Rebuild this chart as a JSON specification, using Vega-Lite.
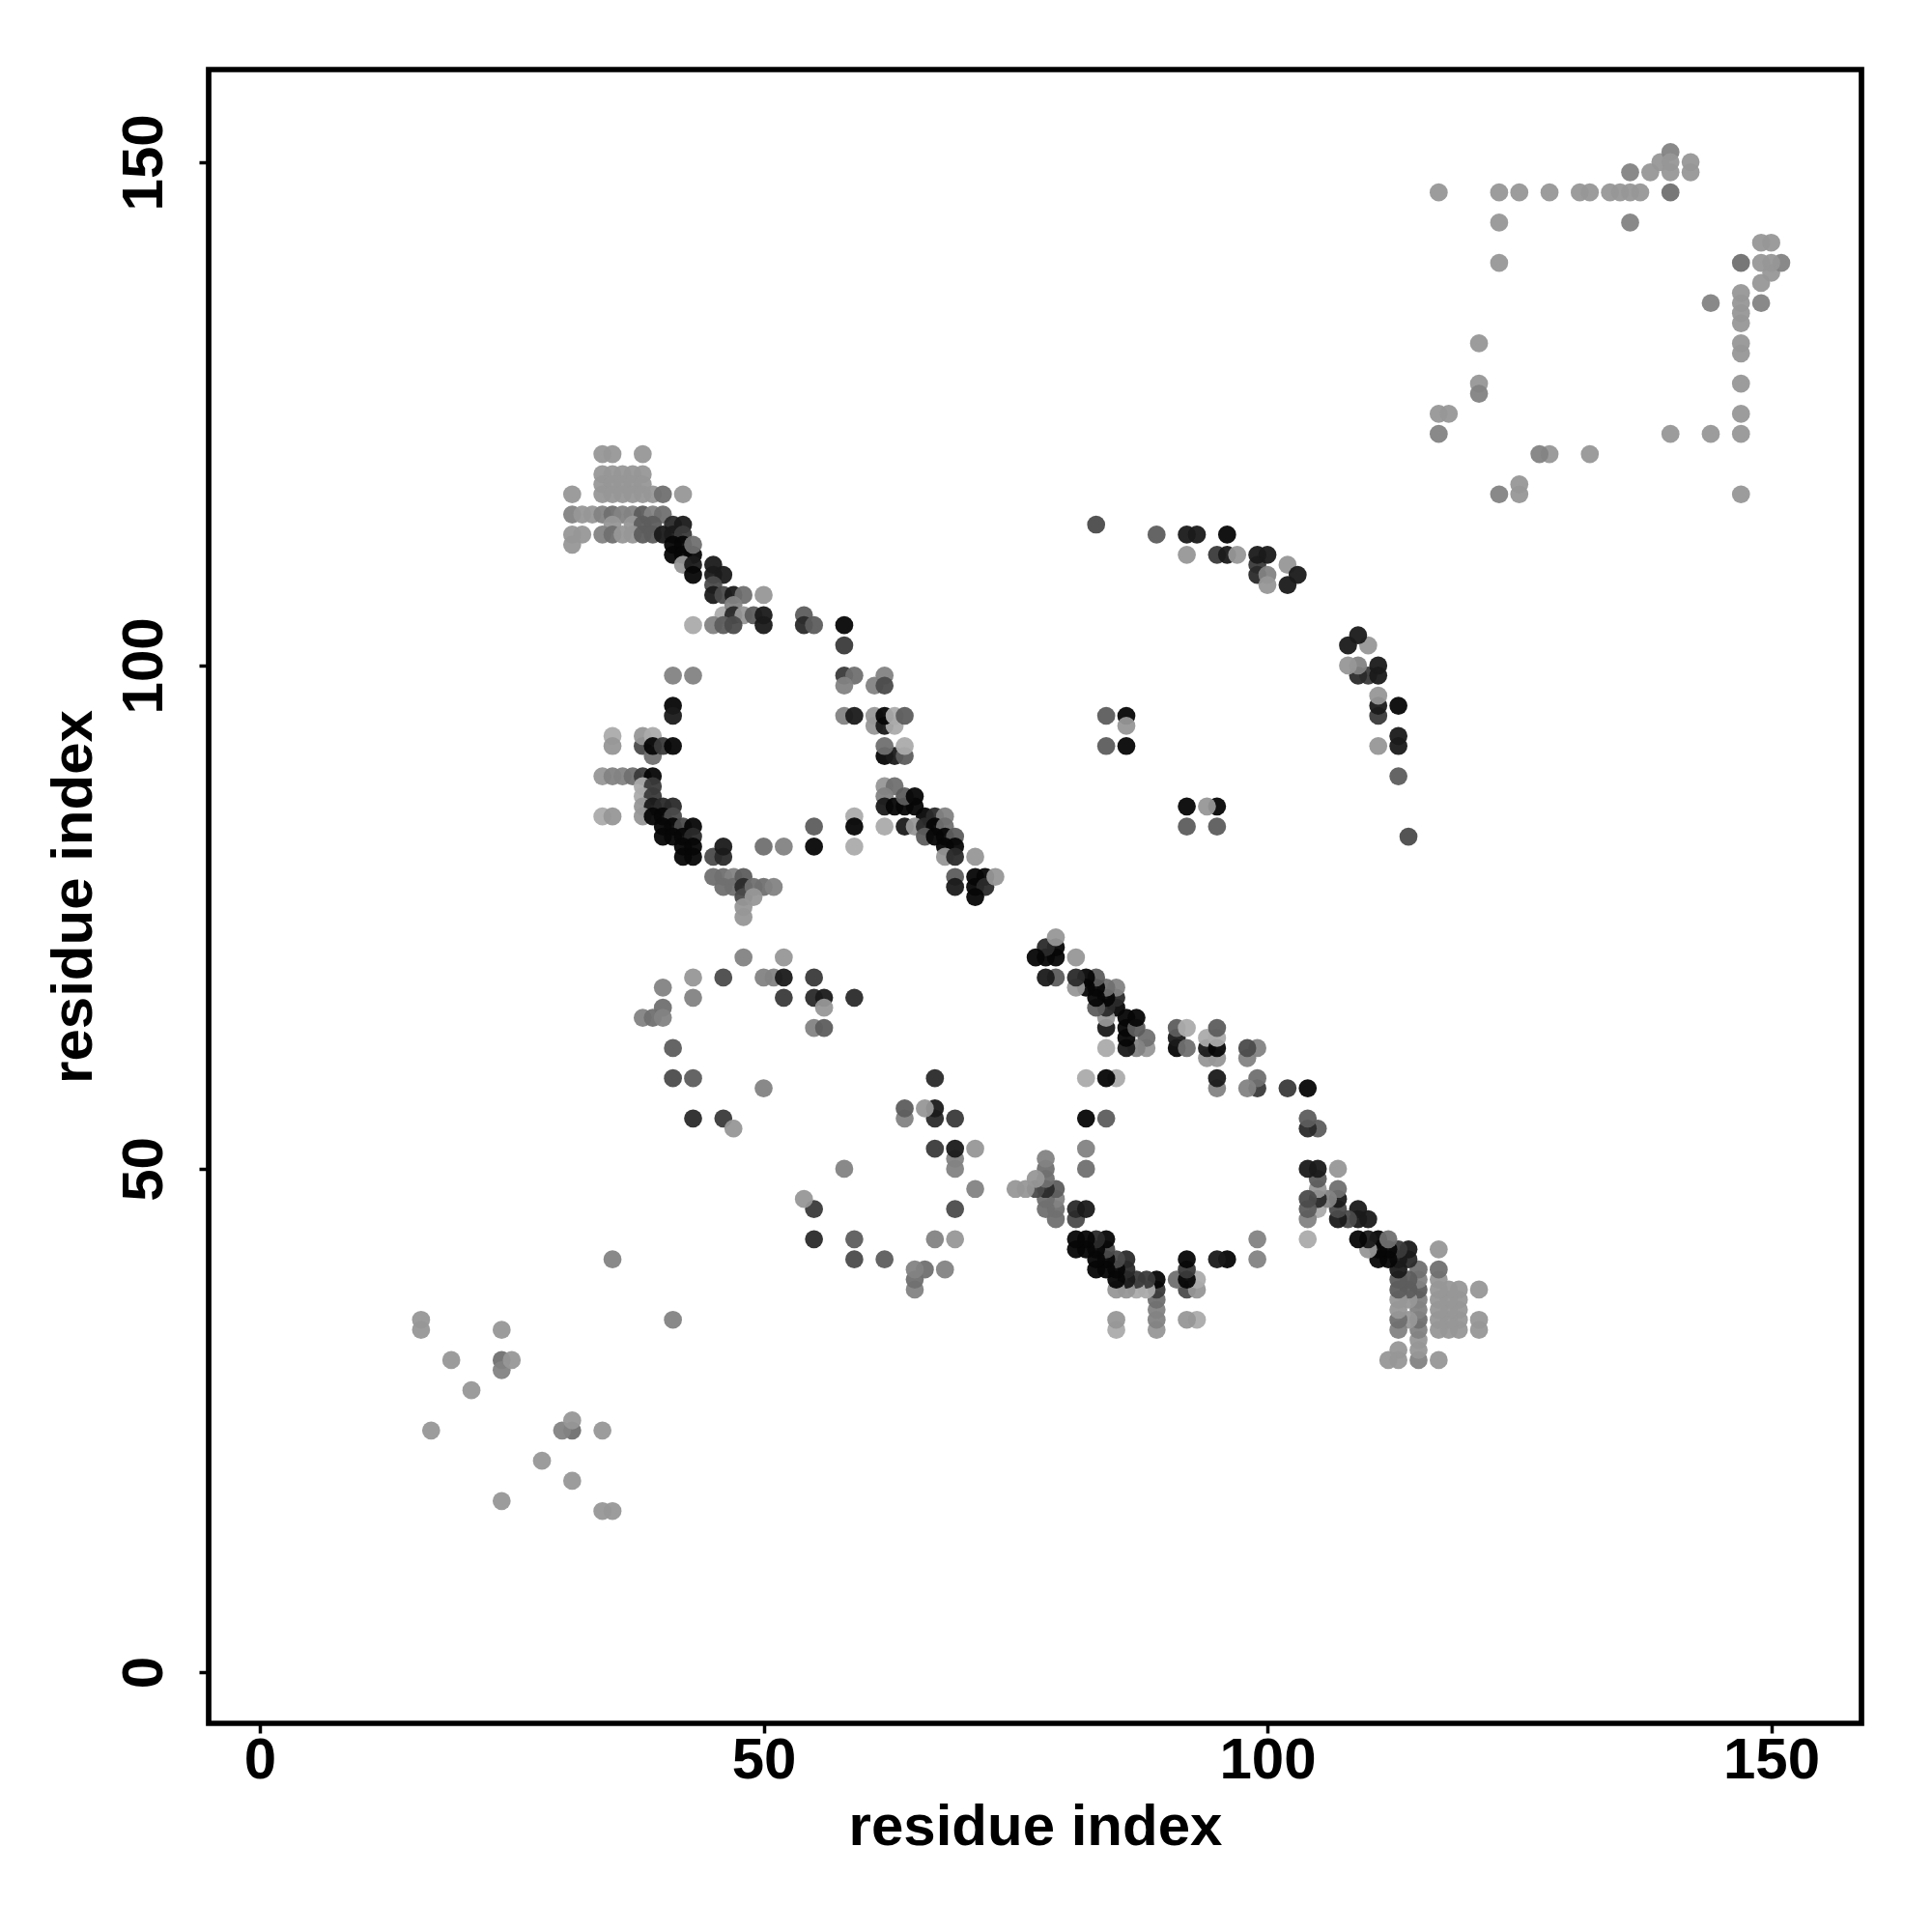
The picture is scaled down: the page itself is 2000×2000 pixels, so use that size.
{"$schema":"https://vega.github.io/schema/vega-lite/v6.json","autosize":{"type":"none"},"padding":{"left":216,"top":72,"right":73,"bottom":216},"width":1711,"height":1712,"background":"white","view":{"stroke":"black","strokeWidth":5.7,"fill":"white"},
"data":{"values":[
{"x":34,"y":121,"s":2},{"x":35,"y":121,"s":2},{"x":38,"y":121,"s":2},{"x":34,"y":119,"s":2},{"x":35,"y":119,"s":2},{"x":36,"y":119,"s":2},{"x":37,"y":119,"s":2},{"x":38,"y":119,"s":2},{"x":34,"y":118,"s":2},{"x":35,"y":118,"s":2},{"x":36,"y":118,"s":2},{"x":37,"y":118,"s":2},{"x":38,"y":118,"s":2},{"x":31,"y":117,"s":2},{"x":34,"y":117,"s":2},{"x":35,"y":117,"s":2},{"x":36,"y":117,"s":2},{"x":37,"y":117,"s":2},{"x":38,"y":117,"s":2},{"x":39,"y":117,"s":2},{"x":40,"y":117,"s":4},{"x":42,"y":117,"s":2},
{"x":31,"y":115,"s":3},{"x":32,"y":115,"s":2},{"x":33,"y":115,"s":2},{"x":34,"y":115,"s":3},{"x":35,"y":115,"s":4},{"x":36,"y":115,"s":3},{"x":37,"y":115,"s":3},{"x":38,"y":115,"s":5},{"x":39,"y":115,"s":3},{"x":40,"y":115,"s":4},{"x":35,"y":114,"s":2},{"x":37,"y":114,"s":2},{"x":38,"y":114,"s":5},{"x":39,"y":114,"s":5},{"x":41,"y":114,"s":8},{"x":42,"y":114,"s":9},
{"x":31,"y":113,"s":2},{"x":32,"y":113,"s":2},{"x":34,"y":113,"s":3},{"x":35,"y":113,"s":4},{"x":36,"y":113,"s":2},{"x":37,"y":113,"s":2},{"x":38,"y":113,"s":5},{"x":39,"y":113,"s":5},{"x":40,"y":113,"s":9},{"x":41,"y":113,"s":9},{"x":42,"y":113,"s":7},{"x":31,"y":112,"s":2},{"x":41,"y":112,"s":10},{"x":42,"y":112,"s":10},{"x":41,"y":111,"s":10},{"x":42,"y":111,"s":10},{"x":43,"y":111,"s":10},{"x":43,"y":112,"s":4},
{"x":42,"y":110,"s":2},{"x":43,"y":110,"s":9},{"x":45,"y":110,"s":9},{"x":43,"y":109,"s":10},{"x":45,"y":109,"s":9},{"x":46,"y":109,"s":9},{"x":45,"y":108,"s":6},{"x":45,"y":107,"s":9},{"x":46,"y":107,"s":6},{"x":47,"y":107,"s":9},{"x":48,"y":107,"s":4},{"x":50,"y":107,"s":2},
{"x":46,"y":105,"s":1},{"x":47,"y":106,"s":3},{"x":47,"y":105,"s":8},{"x":48,"y":105,"s":2},{"x":49,"y":105,"s":5},{"x":50,"y":105,"s":9},{"x":54,"y":105,"s":5},{"x":43,"y":104,"s":1},{"x":45,"y":104,"s":3},{"x":46,"y":104,"s":5},{"x":47,"y":104,"s":6},{"x":50,"y":104,"s":9},{"x":54,"y":104,"s":8},{"x":55,"y":104,"s":5},{"x":58,"y":104,"s":10},{"x":58,"y":102,"s":7},
{"x":41,"y":99,"s":3},{"x":43,"y":99,"s":3},{"x":58,"y":99,"s":7},{"x":59,"y":99,"s":4},{"x":62,"y":99,"s":3},{"x":61,"y":98,"s":3},{"x":62,"y":98,"s":6},{"x":58,"y":98,"s":3},{"x":41,"y":96,"s":10},{"x":41,"y":95,"s":9},{"x":58,"y":95,"s":3},{"x":59,"y":95,"s":9},{"x":61,"y":95,"s":2},{"x":61,"y":94,"s":2},{"x":62,"y":94,"s":9},{"x":63,"y":94,"s":1},{"x":62,"y":95,"s":10},{"x":63,"y":95,"s":1},{"x":64,"y":95,"s":5},
{"x":35,"y":93,"s":1},{"x":35,"y":92,"s":2},{"x":38,"y":92,"s":6},{"x":39,"y":91,"s":4},{"x":38,"y":93,"s":2},{"x":39,"y":93,"s":1},{"x":39,"y":92,"s":10},{"x":40,"y":92,"s":7},{"x":41,"y":92,"s":10},{"x":62,"y":91,"s":10},{"x":63,"y":91,"s":9},{"x":64,"y":91,"s":5},{"x":62,"y":92,"s":4},{"x":64,"y":92,"s":1},
{"x":34,"y":89,"s":2},{"x":35,"y":89,"s":3},{"x":36,"y":89,"s":3},{"x":37,"y":89,"s":4},{"x":38,"y":89,"s":7},{"x":39,"y":89,"s":10},{"x":38,"y":88,"s":1},{"x":39,"y":88,"s":7},{"x":38,"y":87,"s":1},{"x":39,"y":87,"s":7},{"x":38,"y":86,"s":2},{"x":39,"y":86,"s":9},{"x":40,"y":86,"s":8},{"x":41,"y":86,"s":8},{"x":34,"y":85,"s":1},{"x":35,"y":85,"s":2},{"x":38,"y":85,"s":2},{"x":39,"y":85,"s":10},{"x":40,"y":85,"s":10},{"x":41,"y":85,"s":6},{"x":40,"y":84,"s":10},{"x":41,"y":84,"s":10},{"x":42,"y":84,"s":6},{"x":43,"y":84,"s":10},{"x":40,"y":83,"s":10},{"x":41,"y":83,"s":10},{"x":42,"y":83,"s":10},{"x":43,"y":83,"s":8},{"x":42,"y":82,"s":10},{"x":43,"y":82,"s":10},{"x":42,"y":81,"s":10},{"x":43,"y":81,"s":10},{"x":45,"y":81,"s":6},{"x":46,"y":81,"s":8},{"x":46,"y":82,"s":9},{"x":50,"y":82,"s":4},{"x":52,"y":82,"s":3},{"x":55,"y":84,"s":5},{"x":55,"y":82,"s":10},{"x":59,"y":85,"s":1},{"x":59,"y":84,"s":10},{"x":59,"y":82,"s":1},{"x":62,"y":84,"s":1},
{"x":62,"y":88,"s":2},{"x":63,"y":88,"s":4},{"x":62,"y":87,"s":3},{"x":62,"y":86,"s":9},{"x":63,"y":86,"s":10},{"x":64,"y":86,"s":10},{"x":65,"y":86,"s":10},{"x":64,"y":87,"s":5},{"x":65,"y":87,"s":10},{"x":66,"y":85,"s":10},{"x":67,"y":85,"s":8},{"x":68,"y":85,"s":3},{"x":64,"y":84,"s":9},{"x":65,"y":84,"s":2},{"x":66,"y":84,"s":8},{"x":67,"y":84,"s":10},{"x":68,"y":84,"s":4},{"x":66,"y":83,"s":5},{"x":67,"y":83,"s":10},{"x":68,"y":83,"s":10},{"x":69,"y":83,"s":5},{"x":68,"y":82,"s":10},{"x":69,"y":82,"s":10},{"x":68,"y":81,"s":2},{"x":69,"y":81,"s":8},{"x":71,"y":81,"s":2},{"x":69,"y":79,"s":5},{"x":69,"y":78,"s":9},{"x":71,"y":79,"s":10},{"x":72,"y":79,"s":10},{"x":71,"y":78,"s":10},{"x":72,"y":78,"s":8},{"x":71,"y":77,"s":10},{"x":73,"y":79,"s":2},
{"x":45,"y":79,"s":4},{"x":46,"y":79,"s":4},{"x":47,"y":79,"s":3},{"x":46,"y":78,"s":4},{"x":47,"y":78,"s":4},{"x":48,"y":79,"s":5},{"x":48,"y":78,"s":8},{"x":48,"y":77,"s":6},{"x":49,"y":78,"s":4},{"x":50,"y":78,"s":4},{"x":51,"y":78,"s":3},{"x":49,"y":77,"s":2},{"x":48,"y":76,"s":2},{"x":48,"y":75,"s":2},
{"x":48,"y":71,"s":3},{"x":52,"y":71,"s":2},{"x":46,"y":69,"s":6},{"x":43,"y":69,"s":2},{"x":40,"y":68,"s":3},{"x":43,"y":67,"s":3},{"x":40,"y":66,"s":4},{"x":38,"y":65,"s":3},{"x":39,"y":65,"s":4},{"x":40,"y":65,"s":3},{"x":41,"y":62,"s":5},{"x":41,"y":59,"s":6},{"x":43,"y":59,"s":5},{"x":43,"y":55,"s":8},{"x":46,"y":55,"s":7},{"x":47,"y":54,"s":2},{"x":50,"y":58,"s":3},{"x":50,"y":69,"s":3},{"x":51,"y":69,"s":3},{"x":52,"y":69,"s":9},{"x":52,"y":67,"s":7},{"x":55,"y":69,"s":7},{"x":55,"y":67,"s":8},{"x":56,"y":67,"s":9},{"x":56,"y":66,"s":2},{"x":55,"y":64,"s":3},{"x":56,"y":64,"s":5},{"x":59,"y":67,"s":8},
{"x":35,"y":41,"s":3},{"x":16,"y":35,"s":2},{"x":16,"y":34,"s":2},{"x":19,"y":31,"s":2},{"x":21,"y":28,"s":2},{"x":17,"y":24,"s":2},{"x":24,"y":34,"s":2},{"x":24,"y":31,"s":4},{"x":24,"y":30,"s":3},{"x":25,"y":31,"s":2},
{"x":83,"y":114,"s":6},{"x":89,"y":113,"s":5},{"x":92,"y":113,"s":9},{"x":93,"y":113,"s":9},{"x":96,"y":113,"s":10},{"x":92,"y":111,"s":2},{"x":95,"y":111,"s":7},{"x":96,"y":111,"s":9},{"x":97,"y":111,"s":2},{"x":99,"y":110,"s":7},{"x":99,"y":109,"s":8},{"x":100,"y":109,"s":3},{"x":100,"y":108,"s":2},{"x":99,"y":111,"s":9},{"x":100,"y":111,"s":9},{"x":102,"y":110,"s":2},{"x":103,"y":109,"s":9},{"x":102,"y":108,"s":9},
{"x":84,"y":92,"s":5},{"x":84,"y":95,"s":5},{"x":86,"y":95,"s":10},{"x":86,"y":92,"s":10},{"x":86,"y":94,"s":2},
{"x":117,"y":147,"s":2},{"x":123,"y":147,"s":2},{"x":125,"y":147,"s":2},{"x":128,"y":147,"s":2},{"x":131,"y":147,"s":2},{"x":132,"y":147,"s":2},{"x":134,"y":147,"s":2},{"x":135,"y":147,"s":2},{"x":136,"y":147,"s":2},{"x":137,"y":147,"s":2},{"x":140,"y":147,"s":4},{"x":123,"y":144,"s":2},{"x":136,"y":144,"s":3},{"x":123,"y":140,"s":2},{"x":136,"y":149,"s":3},{"x":138,"y":149,"s":2},{"x":139,"y":150,"s":2},{"x":140,"y":151,"s":3},{"x":140,"y":150,"s":2},{"x":140,"y":149,"s":2},{"x":142,"y":150,"s":2},{"x":142,"y":149,"s":2},{"x":121,"y":132,"s":2},{"x":121,"y":128,"s":2},{"x":121,"y":127,"s":3},{"x":117,"y":125,"s":2},{"x":118,"y":125,"s":2},{"x":117,"y":123,"s":3},
{"y":34,"x":121,"s":2},{"y":35,"x":121,"s":2},{"y":38,"x":121,"s":2},{"y":34,"x":119,"s":2},{"y":35,"x":119,"s":2},{"y":36,"x":119,"s":2},{"y":37,"x":119,"s":2},{"y":38,"x":119,"s":2},{"y":34,"x":118,"s":2},{"y":35,"x":118,"s":2},{"y":36,"x":118,"s":2},{"y":37,"x":118,"s":2},{"y":38,"x":118,"s":2},{"y":31,"x":117,"s":2},{"y":34,"x":117,"s":2},{"y":35,"x":117,"s":2},{"y":36,"x":117,"s":2},{"y":37,"x":117,"s":2},{"y":38,"x":117,"s":2},{"y":39,"x":117,"s":2},{"y":40,"x":117,"s":4},{"y":42,"x":117,"s":2},
{"y":31,"x":115,"s":3},{"y":32,"x":115,"s":2},{"y":33,"x":115,"s":2},{"y":34,"x":115,"s":3},{"y":35,"x":115,"s":4},{"y":36,"x":115,"s":3},{"y":37,"x":115,"s":3},{"y":38,"x":115,"s":5},{"y":39,"x":115,"s":3},{"y":40,"x":115,"s":4},{"y":35,"x":114,"s":2},{"y":37,"x":114,"s":2},{"y":38,"x":114,"s":5},{"y":39,"x":114,"s":5},{"y":41,"x":114,"s":8},{"y":42,"x":114,"s":9},
{"y":31,"x":113,"s":2},{"y":32,"x":113,"s":2},{"y":34,"x":113,"s":3},{"y":35,"x":113,"s":4},{"y":36,"x":113,"s":2},{"y":37,"x":113,"s":2},{"y":38,"x":113,"s":5},{"y":39,"x":113,"s":5},{"y":40,"x":113,"s":9},{"y":41,"x":113,"s":9},{"y":42,"x":113,"s":7},{"y":31,"x":112,"s":2},{"y":41,"x":112,"s":10},{"y":42,"x":112,"s":10},{"y":41,"x":111,"s":10},{"y":42,"x":111,"s":10},{"y":43,"x":111,"s":10},{"y":43,"x":112,"s":4},
{"y":42,"x":110,"s":2},{"y":43,"x":110,"s":9},{"y":45,"x":110,"s":9},{"y":43,"x":109,"s":10},{"y":45,"x":109,"s":9},{"y":46,"x":109,"s":9},{"y":45,"x":108,"s":6},{"y":45,"x":107,"s":9},{"y":46,"x":107,"s":6},{"y":47,"x":107,"s":9},{"y":48,"x":107,"s":4},{"y":50,"x":107,"s":2},
{"y":46,"x":105,"s":1},{"y":47,"x":106,"s":3},{"y":47,"x":105,"s":8},{"y":48,"x":105,"s":2},{"y":49,"x":105,"s":5},{"y":50,"x":105,"s":9},{"y":54,"x":105,"s":5},{"y":43,"x":104,"s":1},{"y":45,"x":104,"s":3},{"y":46,"x":104,"s":5},{"y":47,"x":104,"s":6},{"y":50,"x":104,"s":9},{"y":54,"x":104,"s":8},{"y":55,"x":104,"s":5},{"y":58,"x":104,"s":10},{"y":58,"x":102,"s":7},
{"y":41,"x":99,"s":3},{"y":43,"x":99,"s":3},{"y":58,"x":99,"s":7},{"y":59,"x":99,"s":4},{"y":62,"x":99,"s":3},{"y":61,"x":98,"s":3},{"y":62,"x":98,"s":6},{"y":58,"x":98,"s":3},{"y":41,"x":96,"s":10},{"y":41,"x":95,"s":9},{"y":58,"x":95,"s":3},{"y":59,"x":95,"s":9},{"y":61,"x":95,"s":2},{"y":61,"x":94,"s":2},{"y":62,"x":94,"s":9},{"y":63,"x":94,"s":1},{"y":62,"x":95,"s":10},{"y":63,"x":95,"s":1},{"y":64,"x":95,"s":5},
{"y":35,"x":93,"s":1},{"y":35,"x":92,"s":2},{"y":38,"x":92,"s":6},{"y":39,"x":91,"s":4},{"y":38,"x":93,"s":2},{"y":39,"x":93,"s":1},{"y":39,"x":92,"s":10},{"y":40,"x":92,"s":7},{"y":41,"x":92,"s":10},{"y":62,"x":91,"s":10},{"y":63,"x":91,"s":9},{"y":64,"x":91,"s":5},{"y":62,"x":92,"s":4},{"y":64,"x":92,"s":1},
{"y":34,"x":89,"s":2},{"y":35,"x":89,"s":3},{"y":36,"x":89,"s":3},{"y":37,"x":89,"s":4},{"y":38,"x":89,"s":7},{"y":39,"x":89,"s":10},{"y":38,"x":88,"s":1},{"y":39,"x":88,"s":7},{"y":38,"x":87,"s":1},{"y":39,"x":87,"s":7},{"y":38,"x":86,"s":2},{"y":39,"x":86,"s":9},{"y":40,"x":86,"s":8},{"y":41,"x":86,"s":8},{"y":34,"x":85,"s":1},{"y":35,"x":85,"s":2},{"y":38,"x":85,"s":2},{"y":39,"x":85,"s":10},{"y":40,"x":85,"s":10},{"y":41,"x":85,"s":6},{"y":40,"x":84,"s":10},{"y":41,"x":84,"s":10},{"y":42,"x":84,"s":6},{"y":43,"x":84,"s":10},{"y":40,"x":83,"s":10},{"y":41,"x":83,"s":10},{"y":42,"x":83,"s":10},{"y":43,"x":83,"s":8},{"y":42,"x":82,"s":10},{"y":43,"x":82,"s":10},{"y":42,"x":81,"s":10},{"y":43,"x":81,"s":10},{"y":45,"x":81,"s":6},{"y":46,"x":81,"s":8},{"y":46,"x":82,"s":9},{"y":50,"x":82,"s":4},{"y":52,"x":82,"s":3},{"y":55,"x":84,"s":5},{"y":55,"x":82,"s":10},{"y":59,"x":85,"s":1},{"y":59,"x":84,"s":10},{"y":59,"x":82,"s":1},{"y":62,"x":84,"s":1},
{"y":62,"x":88,"s":2},{"y":63,"x":88,"s":4},{"y":62,"x":87,"s":3},{"y":62,"x":86,"s":9},{"y":63,"x":86,"s":10},{"y":64,"x":86,"s":10},{"y":65,"x":86,"s":10},{"y":64,"x":87,"s":5},{"y":65,"x":87,"s":10},{"y":66,"x":85,"s":10},{"y":67,"x":85,"s":8},{"y":68,"x":85,"s":3},{"y":64,"x":84,"s":9},{"y":65,"x":84,"s":2},{"y":66,"x":84,"s":8},{"y":67,"x":84,"s":10},{"y":68,"x":84,"s":4},{"y":66,"x":83,"s":5},{"y":67,"x":83,"s":10},{"y":68,"x":83,"s":10},{"y":69,"x":83,"s":5},{"y":68,"x":82,"s":10},{"y":69,"x":82,"s":10},{"y":68,"x":81,"s":2},{"y":69,"x":81,"s":8},{"y":71,"x":81,"s":2},{"y":69,"x":79,"s":5},{"y":69,"x":78,"s":9},{"y":71,"x":79,"s":10},{"y":72,"x":79,"s":10},{"y":71,"x":78,"s":10},{"y":72,"x":78,"s":8},{"y":71,"x":77,"s":10},{"y":73,"x":79,"s":2},
{"y":45,"x":79,"s":4},{"y":46,"x":79,"s":4},{"y":47,"x":79,"s":3},{"y":46,"x":78,"s":4},{"y":47,"x":78,"s":4},{"y":48,"x":79,"s":5},{"y":48,"x":78,"s":8},{"y":48,"x":77,"s":6},{"y":49,"x":78,"s":4},{"y":50,"x":78,"s":4},{"y":51,"x":78,"s":3},{"y":49,"x":77,"s":2},{"y":48,"x":76,"s":2},{"y":48,"x":75,"s":2},
{"y":48,"x":71,"s":3},{"y":52,"x":71,"s":2},{"y":46,"x":69,"s":6},{"y":43,"x":69,"s":2},{"y":40,"x":68,"s":3},{"y":43,"x":67,"s":3},{"y":40,"x":66,"s":4},{"y":38,"x":65,"s":3},{"y":39,"x":65,"s":4},{"y":40,"x":65,"s":3},{"y":41,"x":62,"s":5},{"y":41,"x":59,"s":6},{"y":43,"x":59,"s":5},{"y":43,"x":55,"s":8},{"y":46,"x":55,"s":7},{"y":47,"x":54,"s":2},{"y":50,"x":58,"s":3},{"y":50,"x":69,"s":3},{"y":51,"x":69,"s":3},{"y":52,"x":69,"s":9},{"y":52,"x":67,"s":7},{"y":55,"x":69,"s":7},{"y":55,"x":67,"s":8},{"y":56,"x":67,"s":9},{"y":56,"x":66,"s":2},{"y":55,"x":64,"s":3},{"y":56,"x":64,"s":5},{"y":59,"x":67,"s":8},
{"y":35,"x":41,"s":3},{"y":16,"x":35,"s":2},{"y":16,"x":34,"s":2},{"y":19,"x":31,"s":2},{"y":21,"x":28,"s":2},{"y":17,"x":24,"s":2},{"y":24,"x":34,"s":2},{"y":24,"x":31,"s":4},{"y":24,"x":30,"s":3},{"y":25,"x":31,"s":2},
{"y":83,"x":114,"s":6},{"y":89,"x":113,"s":5},{"y":92,"x":113,"s":9},{"y":93,"x":113,"s":9},{"y":96,"x":113,"s":10},{"y":92,"x":111,"s":2},{"y":95,"x":111,"s":7},{"y":96,"x":111,"s":9},{"y":97,"x":111,"s":2},{"y":99,"x":110,"s":7},{"y":99,"x":109,"s":8},{"y":100,"x":109,"s":3},{"y":100,"x":108,"s":2},{"y":99,"x":111,"s":9},{"y":100,"x":111,"s":9},{"y":102,"x":110,"s":2},{"y":103,"x":109,"s":9},{"y":102,"x":108,"s":9},
{"y":84,"x":92,"s":5},{"y":84,"x":95,"s":5},{"y":86,"x":95,"s":10},{"y":86,"x":92,"s":10},{"y":86,"x":94,"s":2},
{"y":117,"x":147,"s":2},{"y":123,"x":147,"s":2},{"y":125,"x":147,"s":2},{"y":128,"x":147,"s":2},{"y":131,"x":147,"s":2},{"y":132,"x":147,"s":2},{"y":134,"x":147,"s":2},{"y":135,"x":147,"s":2},{"y":136,"x":147,"s":2},{"y":137,"x":147,"s":2},{"y":140,"x":147,"s":4},{"y":123,"x":144,"s":2},{"y":136,"x":144,"s":3},{"y":123,"x":140,"s":2},{"y":136,"x":149,"s":3},{"y":138,"x":149,"s":2},{"y":139,"x":150,"s":2},{"y":140,"x":151,"s":3},{"y":140,"x":150,"s":2},{"y":140,"x":149,"s":2},{"y":142,"x":150,"s":2},{"y":142,"x":149,"s":2},{"y":121,"x":132,"s":2},{"y":121,"x":128,"s":2},{"y":121,"x":127,"s":3},{"y":117,"x":125,"s":2},{"y":118,"x":125,"s":2},{"y":117,"x":123,"s":3}
]},
"mark":{"type":"circle","size":350,"opacity":0.95},
"encoding":{
"x":{"field":"x","type":"quantitative","scale":{"domain":[-5.08,158.96],"nice":false,"zero":false},"axis":{"title":"residue index","values":[0,50,100,150],"grid":false,"domain":false,"tickColor":"black","tickSize":10,"tickWidth":3.5,"labelFont":"Liberation Sans","labelFontWeight":"bold","labelFontSize":60,"labelColor":"black","labelPadding":-1,"labelOverlap":false,"titleFont":"Liberation Sans","titleFontWeight":"bold","titleFontSize":60,"titleColor":"black","titlePadding":10}},
"y":{"field":"y","type":"quantitative","scale":{"domain":[-5.09,159.2],"nice":false,"zero":false},"axis":{"title":"residue index","values":[0,50,100,150],"grid":false,"domain":false,"tickColor":"black","tickSize":10,"tickWidth":3.5,"labelFont":"Liberation Sans","labelFontWeight":"bold","labelFontSize":60,"labelColor":"black","labelAngle":270,"labelAlign":"center","labelBaseline":"alphabetic","labelPadding":39,"labelOverlap":false,"titleFont":"Liberation Sans","titleFontWeight":"bold","titleFontSize":60,"titleColor":"black","titlePadding":12}},
"color":{"field":"s","type":"quantitative","legend":null,"scale":{"domain":[1,10],"range":["#ababab","#060606"]}}
}}
